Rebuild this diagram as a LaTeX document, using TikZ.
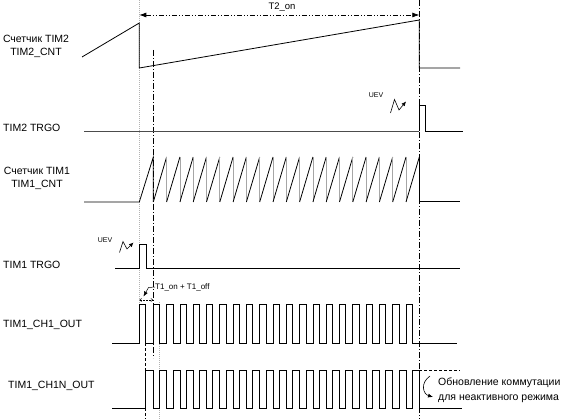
\documentclass[tikz,border=0pt]{standalone}
\usepackage{fontspec}
\setmainfont{Liberation Sans}
\usetikzlibrary{arrows.meta}
\begin{document}
\begin{tikzpicture}[x=1pt,y=-1pt,
  sig/.style={line width=0.8pt, black},
  lbl/.style={font=\fontsize{10.5}{13}\selectfont, inner sep=0pt},
  uev/.style={font=\fontsize{7}{7}\selectfont, inner sep=0pt},
  dashdot/.style={line width=0.7pt, dash pattern=on 6pt off 2pt on 1pt off 2pt},
  grayguide/.style={gray!60, line width=1pt, dash pattern=on 1pt off 1pt},
  bolt/.style={line width=0.6pt, -{Latex[length=4.5pt,width=4pt]}}]
\useasboundingbox (0,0) rectangle (569,419);
% guide lines
\draw[grayguide] (139.3,0) -- (139.3,304);
\draw[dashdot] (153.3,50) -- (153.3,358);
\draw[dashdot] (419.3,0) -- (419.3,419);
\draw[line width=0.7pt, dash pattern=on 3pt off 2pt] (145.6,343) -- (145.6,419);
\draw[grayguide] (159.6,302) -- (159.6,419);
% T2_on
\coordinate (t2a) at (139.3,15);
\coordinate (t2b) at (419.3,15);
\draw[line width=0.7pt, dash pattern=on 5pt off 2pt on 1pt off 2pt on 1pt off 2pt,
  {Latex[length=7pt,width=5pt]}-{Latex[length=7pt,width=5pt]}] (t2a) -- (t2b);
\node[font=\fontsize{9.5}{10}\selectfont, inner sep=0pt] (t2on) at (282,7) {T2\_on};
% labels
\node[lbl, align=center] (l1) at (36,46.5) {Счетчик TIM2\\TIM2\_CNT};
\node[lbl, anchor=west] (l2) at (3,128) {TIM2 TRGO};
\node[lbl, align=center] (l3) at (37,178.5) {Счетчик TIM1\\TIM1\_CNT};
\node[lbl, anchor=west] (l4) at (3,265) {TIM1 TRGO};
\node[lbl, anchor=west] (l5) at (3,325) {TIM1\_CH1\_OUT};
\node[lbl, anchor=west] (l6) at (8,386) {TIM1\_CH1N\_OUT};
% TIM2 counter
\draw[sig] (82,57) -- (139.3,23) -- (139.3,68) -- (419.3,20) -- (419.3,68) -- (460,68);
% TIM2 TRGO
\draw[black!70, line width=0.9pt] (84,131) -- (419.3,131);
\draw[sig] (419.3,131) -- (419.3,105) -- (425.5,105) -- (425.5,131) -- (463,131);
\node[uev] (uev2) at (376,95) {UEV};
\draw[bolt] (390.5,113) -- (394.5,99.5) -- (399,110) -- (406,101.5);
% TIM1 counter
\draw[sig] (84,202) -- (139.3,202) -- (153.3,157) -- (153.3,202);
\foreach \k in {0,...,19}{
  \draw[sig] ({153.3+13.3*\k},202) -- ({166.6+13.3*\k},157);
  \draw[gray!70, line width=0.8pt] ({166.6+13.3*\k},157) -- ({166.6+13.3*\k},202);
}
\draw[sig] (419.3,157) -- (419.3,201) -- (460,201);
% TIM1 TRGO
\draw[sig] (115,268) -- (139.3,268) -- (139.3,244) -- (146.5,244) -- (146.5,268) -- (460,268);
\node[uev] (uev1) at (105,240) {UEV};
\draw[bolt] (119.5,252.5) -- (123,241.5) -- (127,249) -- (133.5,242.5);
% T1 period
\coordinate (pa) at (139.3,300);
\coordinate (pb) at (153.3,300);
\draw[line width=0.5pt, densely dotted, {Straight Barb[length=2pt,width=3pt]}-{Straight Barb[length=2pt,width=3pt]}] (pa) -- (pb);
\node[anchor=west, font=\fontsize{8}{9}\selectfont, inner sep=0pt] (t1) at (155,287) {T1\_on + T1\_off};
\coordinate (lk) at (148.5,287.5);
\coordinate (lt) at (143.5,296.5);
\draw[line width=0.5pt, -{Latex[length=5pt,width=4pt]}] (t1.west) -- (lk) -- (lt);
% CH1
\draw[sig] (112,343) -- (139.3,343) -- (139.3,304) -- (145.6,304) -- (145.6,343)
  foreach \k in {0,...,19}{ -- ({153.3+13.3*\k},343) -- ++(0,-39) -- ++(6.3,0) -- ++(0,39) }
  -- (457,343);
% CH1N
\draw[sig] (112,408) -- (145.6,408) -- (145.6,370) -- (153.3,370) -- (153.3,408)
  foreach \k in {0,...,18}{ -- ({159.6+13.3*\k},408) -- ++(0,-38) -- ++(7,0) -- ++(0,38) }
  -- (412.3,408) -- (412.3,370) -- (419.3,370) -- (419.3,408) -- (462,408);
\draw[line width=0.7pt, dash pattern=on 3pt off 2pt] (419.3,370) -- (460,370);
% update note
\node[anchor=west, align=left, font=\fontsize{10.5}{15}\selectfont, inner sep=0pt] (upd) at (438,390)
  {Обновление коммутации\\для неактивного режима};
\coordinate (ca) at (430,376);
\coordinate (cb) at (433,397);
\draw[line width=0.6pt, -{Latex[length=5pt,width=4pt]}] (ca) .. controls (420,383) and (423,394) .. (cb);
\end{tikzpicture}
\end{document}
